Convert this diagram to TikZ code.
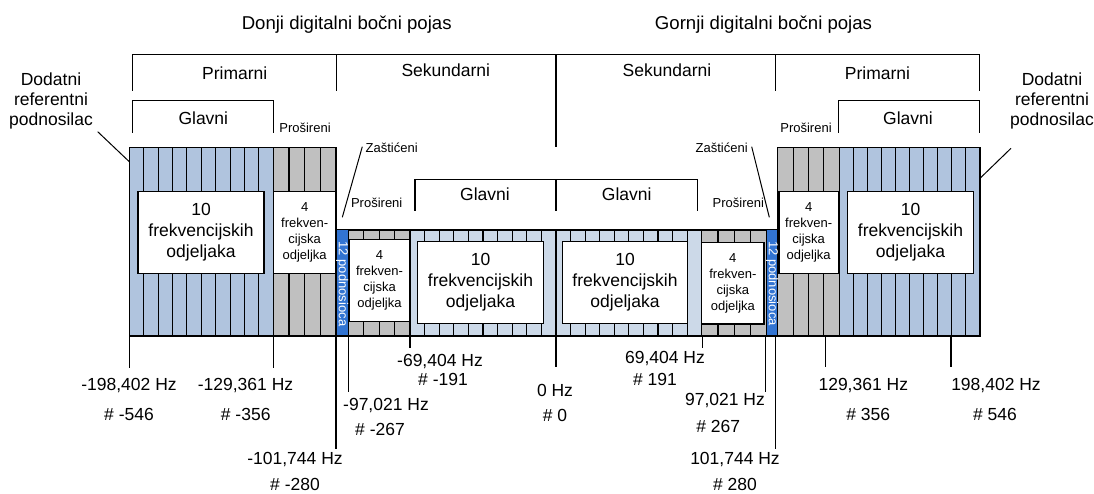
\documentclass[tikz,border=0pt]{standalone}
\usepackage{fontspec}
\setmainfont{Liberation Sans}
\usepackage{tikz}
\pgfdeclarelayer{blocklayer}
\pgfsetlayers{blocklayer, main}

\definecolor{bandblue}{RGB}{176,196,222}
\definecolor{paleblue}{RGB}{204,217,232}
\definecolor{bandgray}{RGB}{192,192,192}
\definecolor{stripblue}{RGB}{50,116,210}

\tikzset{
    cellline/.style={line width=1.1pt},
    bracket/.style={line width=1.2pt},
    leader/.style={line width=1pt},
    mainbox/.style={draw, fill=white, line width=1.2pt, inner sep=0pt, align=center,
        font=\fontsize{17.5}{21}\selectfont},
    extbox/.style={draw, fill=white, line width=1.2pt, inner sep=0pt, align=center,
        font=\fontsize{13}{16}\selectfont},
    titletext/.style={inner sep=0pt, font=\fontsize{18.6}{22}\selectfont},
    bigtext/.style={inner sep=0pt, align=center, font=\fontsize{17.5}{20}\selectfont},
    smalltext/.style={inner sep=0pt, font=\fontsize{13}{15}\selectfont},
    striptext/.style={inner sep=0pt, text=white, font=\fontsize{13}{15}\selectfont, rotate=-90},
}

\begin{document}
\begin{tikzpicture}[x=1pt,y=-1pt]
    \useasboundingbox (0,0) rectangle (1094,494);
	\begin{pgfonlayer}{blocklayer}
        % frequency partitions
        \foreach \xa/\xb/\ya/\n/\col in {129.3/273.3/147.7/10/bandblue, 273.3/336/147.7/4/bandgray,
                348.3/410/230/4/bandgray, 410/556/230/10/paleblue, 556/701.7/230/10/paleblue,
                701.7/766.7/230/4/bandgray, 777.7/839.3/147.7/4/bandgray, 839.3/980/147.7/10/bandblue}{
            \fill[\col] (\xa,\ya) rectangle (\xb,336);
            \foreach \k in {0,...,\n}
                \draw[cellline] ({\xa+(\xb-\xa)*\k/\n},\ya) -- ({\xa+(\xb-\xa)*\k/\n},336);
            \draw[cellline] (\xa,\ya) rectangle (\xb,336);
        }
        \foreach \xa/\xb in {336/348.3, 766.7/777.7}
            \filldraw[cellline, fill=stripblue] (\xa,229.5) rectangle (\xb,336);
	\end{pgfonlayer}

    \node[mainbox, minimum width=126, minimum height=81.6] (mainL) at (201,232.5) {10\\frekvencijskih\\odjeljaka};
    \node[extbox, minimum width=62.7, minimum height=81.6] (extL) at (304.65,232.5) {4\\frekven-\\cijska\\odjeljka};
    \node[extbox, minimum width=61, minimum height=82.4] (extML) at (379.5,280.5) {4\\frekven-\\cijska\\odjeljka};
    \node[mainbox, minimum width=125.6, minimum height=81.6] (mainML) at (480.5,282.5) {10\\frekvencijskih\\odjeljaka};
    \node[mainbox, minimum width=125.4, minimum height=81.6] (mainMR) at (625,282.5) {10\\frekvencijskih\\odjeljaka};
    \node[extbox, minimum width=62.3, minimum height=81.3] (extMR) at (732.85,283.35) {4\\frekven-\\cijska\\odjeljka};
    \node[extbox, minimum width=59.3, minimum height=81.6] (extR) at (808.65,232.5) {4\\frekven-\\cijska\\odjeljka};
    \node[mainbox, minimum width=125.6, minimum height=81.6] (mainR) at (910.5,232.5) {10\\frekvencijskih\\odjeljaka};
    \node[striptext] (guardL) at (342.2,284) {12 podnosioca};
    \node[striptext] (guardR) at (772.2,283.5) {12 podnosioca};

    \node[titletext] (lsb) at (346.7,25) {Donji digitalni bočni pojas};
    \node[titletext] (usb) at (763.5,25) {Gornji digitalni bočni pojas};
    \node[bigtext] (primL) at (234.7,73) {Primarni};
    \node[bigtext] (sekL) at (445.8,70) {Sekundarni};
    \node[bigtext] (sekR) at (667,70) {Sekundarni};
    \node[bigtext] (primR) at (877.5,73) {Primarni};
    \node[bigtext] (glavL) at (203.3,118) {Glavni};
    \node[bigtext] (glavR) at (908,118) {Glavni};
    \node[smalltext] (prosL) at (305,127.7) {Prošireni};
    \node[smalltext] (prosR) at (806,127.7) {Prošireni};
    \node[bigtext] (refL) at (51,100.7) {Dodatni\\referentni\\podnosilac};
    \node[bigtext] (refR) at (1052,100.7) {Dodatni\\referentni\\podnosilac};
    \node[smalltext] (zasL) at (391.7,147.3) {Zaštićeni};
    \node[smalltext] (zasR) at (721.7,147.3) {Zaštićeni};
    \node[smalltext] (prosML) at (376.7,203.3) {Prošireni};
    \node[smalltext] (prosMR) at (738.3,203.3) {Prošireni};
    \node[bigtext] (glavML) at (485,194) {Glavni};
    \node[bigtext] (glavMR) at (626.7,194) {Glavni};

    % brackets
    \draw[bracket] (132.3,90.7) -- (132.3,54.3) -- (979.3,54.3) -- (979.3,90.7);
    \draw[bracket] (336.7,54.3) -- (336.7,90.7);
    \draw[bracket] (556,54.3) -- (556,147.3);
    \draw[bracket] (775.6,54.3) -- (775.6,90.7);
    \draw[bracket] (132.3,132.7) -- (132.3,100.7) -- (273.3,100.7) -- (273.3,132.7);
    \draw[bracket] (838.5,132.7) -- (838.5,100.7) -- (979.3,100.7) -- (979.3,132.7);
    \draw[bracket] (415,211) -- (415,179.3) -- (697.7,179.3) -- (697.7,211);
    \draw[bracket] (556,179.3) -- (556,211);

    % leaders
    \coordinate (refLa) at (97.7,131.7);
    \coordinate (refLb) at (129.3,161.7);
    \coordinate (refRa) at (1011,148.3);
    \coordinate (refRb) at (980,178.3);
    \coordinate (zasLa) at (362.3,146.7);
    \coordinate (zasLb) at (342.3,217.3);
    \coordinate (zasRa) at (751.7,146.7);
    \coordinate (zasRb) at (769.3,217.3);
    \draw[leader] (refLa) -- (refLb);
    \draw[leader] (refRa) -- (refRb);
    \draw[leader] (zasLa) -- (zasLb);
    \draw[leader] (zasRa) -- (zasRb);

    % frequency ticks
    \foreach \x/\y [count=\i] in {129.3/367.7, 273.3/367.7, 336/449, 348.3/392.3, 410/348.3, 556/367.3,
            702.3/348, 765.7/392.3, 775.7/449, 825.7/367.3, 951/367.3}{
        \coordinate (tktop\i) at (\x,336);
        \coordinate (tkend\i) at (\x,\y);
        \draw[bracket] (tktop\i) -- (tkend\i);
    }
    \node[bigtext] (hz1) at (129,386) {-198,402 Hz};
    \node[bigtext] (no1) at (129,414.3) {\# -546};
    \node[bigtext] (hz2) at (245.5,386) {-129,361 Hz};
    \node[bigtext] (no2) at (245.7,414.3) {\# -356};
    \node[bigtext] (hz3) at (295,460) {-101,744 Hz};
    \node[bigtext] (no3) at (295,484) {\# -280};
    \node[bigtext] (hz4) at (386,405.7) {-97,021 Hz};
    \node[bigtext] (no4) at (380,429.3) {\# -267};
    \node[bigtext] (hz5) at (440,361.7) {-69,404 Hz};
    \node[bigtext] (no5) at (443,379) {\# -191};
    \node[bigtext] (hz6) at (555,390) {0 Hz};
    \node[bigtext] (no6) at (555,415) {\# 0};
    \node[bigtext] (hz7) at (665,358.3) {69,404 Hz};
    \node[bigtext] (no7) at (655,379.3) {\# 191};
    \node[bigtext] (hz8) at (725,400.7) {97,021 Hz};
    \node[bigtext] (no8) at (718.3,426) {\# 267};
    \node[bigtext] (hz9) at (735,460) {101,744 Hz};
    \node[bigtext] (no9) at (735,484) {\# 280};
    \node[bigtext] (hz10) at (863.3,386) {129,361 Hz};
    \node[bigtext] (no10) at (868.3,414) {\# 356};
    \node[bigtext] (hz11) at (996,386) {198,402 Hz};
    \node[bigtext] (no11) at (995,414) {\# 546};
\end{tikzpicture}
\end{document}
